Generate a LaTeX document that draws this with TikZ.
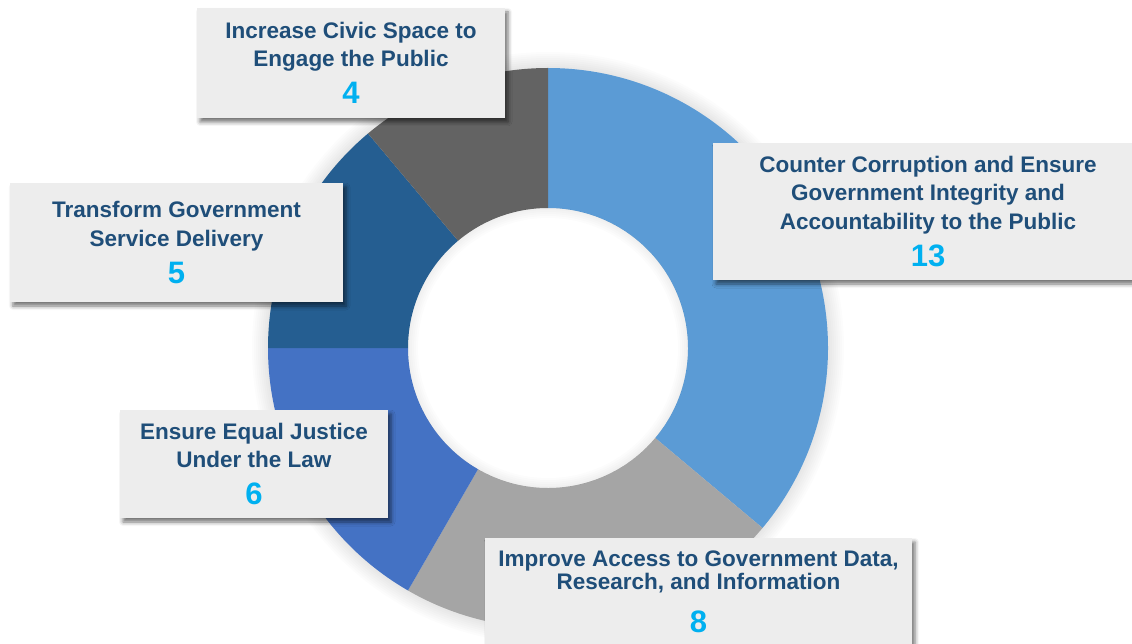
\documentclass[tikz,border=0pt]{standalone}
\usepackage{fontspec}
\setmainfont{Liberation Sans}
\usetikzlibrary{shadows.blur}
\definecolor{sliceA}{HTML}{5B9BD5}
\definecolor{sliceB}{HTML}{A5A5A5}
\definecolor{sliceC}{HTML}{4472C4}
\definecolor{sliceD}{HTML}{255E91}
\definecolor{sliceE}{HTML}{636363}
\definecolor{goaltext}{HTML}{1F4E79}
\definecolor{goalnum}{HTML}{00B0F0}
\definecolor{boxfill}{HTML}{EDEDED}
\begin{document}
\begin{tikzpicture}[x=1pt,y=-1pt,
  goalbox/.style={fill=boxfill, align=center, inner sep=0pt, text=goaltext,
    font=\bfseries\fontsize{22.5}{28.5}\selectfont,
    blur shadow={shadow xshift=3pt, shadow yshift=-4pt, shadow blur radius=4pt, shadow opacity=55}}]
\useasboundingbox (0,0) rectangle (1132,644);
\begin{scope}[shift={(548,348)},yscale=-1]
\foreach \k in {2,4,...,16} \fill[black,opacity=0.012,even odd rule] (0,0) circle (280+\k) circle (140);
\foreach \a/\b/\col in {90/-40/sliceA,-40/-120/sliceB,-120/-180/sliceC,180/130/sliceD,130/90/sliceE}
  \fill[\col] (\a:280) arc[start angle=\a, end angle=\b, radius=280] -- (\b:140) arc[start angle=\b, end angle=\a, radius=140] -- cycle;
\foreach \k in {2,4,...,10} \fill[black,opacity=0.012,even odd rule] (0,0) circle (140) circle (140-\k);
\end{scope}

\node[goalbox, minimum width=308, minimum height=110] (civic) at (351,63)
  {Increase Civic Space to\\Engage the Public\\[8.5pt]{\fontsize{31}{31}\selectfont\color{goalnum}4}};
\node[goalbox, minimum width=430, minimum height=137] (corrupt) at (928,211.5)
  {Counter Corruption and Ensure\\Government Integrity and\\Accountability to the Public\\[8.5pt]{\fontsize{31}{31}\selectfont\color{goalnum}13}};
\node[goalbox, minimum width=333, minimum height=119] (service) at (176.5,242.5)
  {Transform Government\\Service Delivery\\[8.5pt]{\fontsize{31}{31}\selectfont\color{goalnum}5}};
\node[goalbox, minimum width=268, minimum height=108] (justice) at (254,464)
  {Ensure Equal Justice\\Under the Law\\[8.5pt]{\fontsize{31}{31}\selectfont\color{goalnum}6}};
\node[goalbox, font=\bfseries\fontsize{22.5}{23}\selectfont, minimum width=427, minimum height=108] (data) at (698.5,592)
  {Improve Access to Government Data,\\Research, and Information\\[17pt]{\fontsize{31}{31}\selectfont\color{goalnum}8}};
\end{tikzpicture}
\end{document}
